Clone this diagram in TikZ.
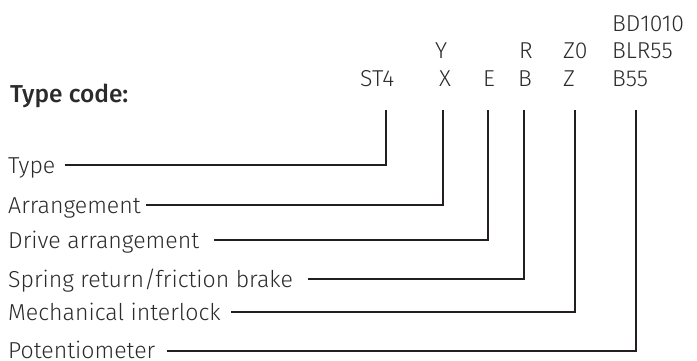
\documentclass[tikz,border=0pt]{standalone}
\usepackage{fontspec}
\setmainfont{Fira Sans}[UprightFont=* Light, BoldFont=* Medium]
\definecolor{txt}{HTML}{2B2B2B}
\definecolor{ln}{HTML}{231F20}
\begin{document}
\begin{tikzpicture}[x=1pt,y=-1pt,
  lab/.style={anchor=base west, inner sep=0pt, text=txt, font=\fontsize{23.1}{25}\selectfont},
  code/.style={anchor=base west, inner sep=0pt, text=txt, font=\fontsize{23}{25}\selectfont},
  head/.style={anchor=base west, inner sep=0pt, text=txt, font=\bfseries\fontsize{24.5}{26}\selectfont},
  conn/.style={draw=ln, line width=1.5pt}]
\useasboundingbox (0,0) rectangle (697,360);
% heading
\node[head] (hd) at (10,102) {Type code:};
% code rows
\node[code] (c1) at (612,31) {BD1010};
\node[code] (cY) at (435,58) {Y};
\node[code] (cR) at (519,58) {R};
\node[code] (cZ0) at (563,58) {Z0};
\node[code] (c2) at (612,58) {BLR55};
\node[code] (cST) at (360,86) {ST4};
\node[code] (cX) at (439,86) {X};
\node[code] (cE) at (483,86) {E};
\node[code] (cB) at (518,86) {B};
\node[code] (cZ) at (563,86) {Z};
\node[code] (c3) at (612,86) {B55};
% tops of the vertical lines
\coordinate (t1) at (386,110);
\coordinate (t2) at (443,110);
\coordinate (t3) at (488,110);
\coordinate (t4) at (524,110);
\coordinate (t5) at (575,110);
\coordinate (t6) at (636,110);
% labels
\node[lab] (l1) at (8,173) {Type};
\node[lab] (l2) at (8,213) {Arrangement};
\node[lab] (l3) at (8,248) {Drive arrangement};
\node[lab] (l4) at (8,287) {Spring return/friction brake};
\node[lab] (l5) at (8,320) {Mechanical interlock};
\node[lab] (l6) at (8,358.5) {Potentiometer};
% connectors
\draw[conn] ([shift={(9,-8)}]l1.base east) -| (t1);
\draw[conn] ([shift={(5,-8)}]l2.base east) -| (t2);
\draw[conn] ([shift={(15,-8)}]l3.base east) -| (t3);
\draw[conn] ([shift={(15,-8)}]l4.base east) -| (t4);
\draw[conn] ([shift={(10,-8)}]l5.base east) -| (t5);
\draw[conn] ([shift={(11,-7.5)}]l6.base east) -| (t6);
\end{tikzpicture}
\end{document}
